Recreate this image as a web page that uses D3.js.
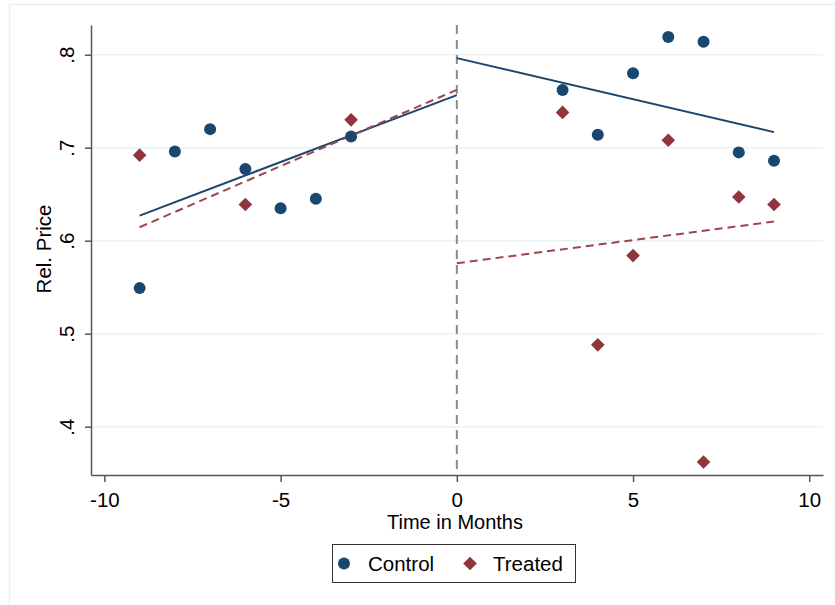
<!DOCTYPE html>
<html>
<head>
<meta charset="utf-8">
<script src="https://cdn.jsdelivr.net/npm/d3@7"></script>
<style>
  body { margin: 0; background: #fff; }
  text { font-family: "Liberation Sans", Arial, sans-serif; }
</style>
</head>
<body>
<script>
// months relative to treatment
var months = [-9, -8, -7, -6, -5, -4, -3, 3, 4, 5, 6, 7, 8, 9];
var controlPrice = [0.549, 0.696, 0.720, 0.677, 0.635, 0.645, 0.712, 0.762, 0.714, 0.780, 0.819, 0.814, 0.695, 0.686];

var treatedMonths = [-9, -6, -3, 3, 4, 5, 6, 7, 8, 9];
var treatedPrice = [0.692, 0.639, 0.730, 0.738, 0.488, 0.584, 0.708, 0.362, 0.647, 0.639];

// fitted lines, endpoints
var fitControlPre = [[-9, 0.627], [0, 0.7566]];
var fitControlPost = [[0, 0.7964], [9, 0.7168]];
var fitTreatedPre = [[-9, 0.6145], [0, 0.7623]];
var fitTreatedPost = [[0, 0.5758], [9, 0.6206]];

var xTicks = [-10, -5, 0, 5, 10];
var yTicks = [0.4, 0.5, 0.6, 0.7, 0.8];

var width = 835, height = 605;
var margin = {top: 25, right: 12, bottom: 130, left: 91};

var navy = "#1a476f", maroon = "#90353b";

var svg = d3.select("body")
    .append("svg")
    .attr("width", width)
    .attr("height", height);

// faint outer frame
svg.append("rect")
    .attr("x", 9.5).attr("y", 4.5)
    .attr("width", width).attr("height", height)
    .attr("fill", "none")
    .attr("stroke", "#eaf0f2")
    .attr("stroke-width", 1.5);

var xscale = d3.scaleLinear()
    .domain([-10.38, 10.39])
    .range([margin.left, width - margin.right]);

var yscale = d3.scaleLinear()
    .domain([0.348, 0.832])
    .range([height - margin.bottom, margin.top]);

// gridlines
svg.append("g")
    .selectAll("line")
    .data(yTicks)
    .join("line")
    .attr("x1", margin.left)
    .attr("x2", width - margin.right)
    .attr("y1", d => yscale(d))
    .attr("y2", d => yscale(d))
    .attr("stroke", "#eaf2f3")
    .attr("stroke-width", 1.5);

// x-axis
var xAxis = svg.append("g")
    .attr("transform", `translate(0,${height - margin.bottom})`)
    .call(d3.axisBottom(xscale).tickValues(xTicks).tickSize(7).tickSizeOuter(0).tickFormat(d3.format("d")));
xAxis.select(".domain").attr("stroke", "#555").attr("stroke-width", 1.5);
xAxis.selectAll(".tick line").attr("stroke", "#555").attr("stroke-width", 1.5);
xAxis.selectAll(".tick text")
    .attr("font-size", 20.5)
    .attr("fill", "#000")
    .attr("dy", null)
    .attr("y", 32)
    .text(d => d < 0 ? "-" + Math.abs(d) : d);

// y-axis
var yAxis = svg.append("g")
    .attr("transform", `translate(${margin.left},0)`)
    .call(d3.axisLeft(yscale).tickValues(yTicks).tickSize(6).tickSizeOuter(0));
yAxis.select(".domain").attr("stroke", "#555").attr("stroke-width", 1.5);
yAxis.selectAll(".tick line").attr("stroke", "#555").attr("stroke-width", 1.5);
yAxis.selectAll(".tick text")
    .attr("font-size", 20.5)
    .attr("fill", "#000")
    .attr("x", null).attr("dy", null)
    .attr("text-anchor", "middle")
    .attr("transform", "translate(-17,0) rotate(-90)")
    .text(d => d3.format(".1f")(d).replace(/^0/, ""));

// axis titles
svg.append("text")
    .attr("x", 455)
    .attr("y", 529)
    .attr("text-anchor", "middle")
    .attr("font-size", 20)
    .text("Time in Months");

svg.append("text")
    .attr("transform", `translate(51,249) rotate(-90)`)
    .attr("text-anchor", "middle")
    .attr("font-size", 20.5)
    .text("Rel. Price");

// vertical line at treatment
svg.append("line")
    .attr("x1", xscale(0)).attr("x2", xscale(0))
    .attr("y1", margin.top).attr("y2", height - margin.bottom)
    .attr("stroke", "#8a8a8a")
    .attr("stroke-width", 2)
    .attr("stroke-dasharray", "9,6");

var line = d3.line()
    .x(d => xscale(d[0]))
    .y(d => yscale(d[1]));

[fitControlPre, fitControlPost].forEach(function(seg) {
    svg.append("path")
        .datum(seg)
        .attr("d", line)
        .attr("fill", "none")
        .attr("stroke", navy)
        .attr("stroke-width", 2);
});

[fitTreatedPre, fitTreatedPost].forEach(function(seg) {
    svg.append("path")
        .datum(seg)
        .attr("d", line)
        .attr("fill", "none")
        .attr("stroke", "#a0454b")
        .attr("stroke-width", 2)
        .attr("stroke-dasharray", "8,5");
});

// control points
svg.append("g")
    .selectAll("circle")
    .data(months)
    .join("circle")
    .attr("cx", d => xscale(d))
    .attr("cy", (d, i) => yscale(controlPrice[i]))
    .attr("r", 6)
    .attr("fill", navy);

// treated points
var diamond = d3.symbol().type(d3.symbolDiamond2).size(118);
svg.append("g")
    .selectAll("path")
    .data(treatedMonths)
    .join("path")
    .attr("transform", (d, i) => `translate(${xscale(d)},${yscale(treatedPrice[i])})`)
    .attr("d", diamond)
    .attr("fill", maroon);

// legend
var legend = svg.append("g");
legend.append("rect")
    .attr("x", 332.5).attr("y", 544.5)
    .attr("width", 243).attr("height", 38)
    .attr("fill", "#fff")
    .attr("stroke", "#333")
    .attr("stroke-width", 1);
legend.append("circle")
    .attr("cx", 344).attr("cy", 563.5)
    .attr("r", 6)
    .attr("fill", navy);
legend.append("text")
    .attr("x", 368).attr("y", 571)
    .attr("font-size", 20.5)
    .text("Control");
legend.append("path")
    .attr("transform", "translate(470,563.5)")
    .attr("d", diamond)
    .attr("fill", maroon);
legend.append("text")
    .attr("x", 493).attr("y", 571)
    .attr("font-size", 20.5)
    .text("Treated");
</script>
</body>
</html>
